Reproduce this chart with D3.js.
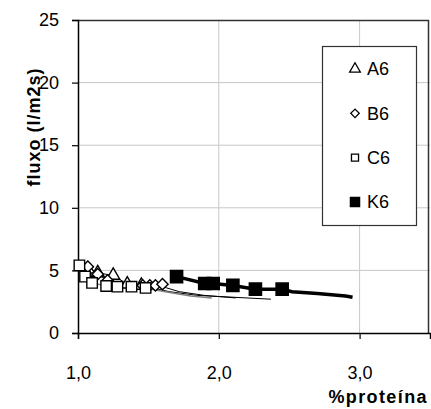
<!DOCTYPE html>
<html>
<head>
<meta charset="utf-8">
<script src="https://cdn.jsdelivr.net/npm/d3@7"></script>
<style>
  body { margin: 0; background: #fff; }
  text { font-family: Arial, "Liberation Sans", sans-serif; fill: #000; }
</style>
</head>
<body>
<script>
(function () {
  "use strict";

  // data
  var seriesNames = ["A6", "B6", "C6", "K6"];
  var xTicks = [1, 2, 3];
  var yTicks = [0, 5, 10, 15, 20, 25];

  // markers
  var a6Pts = [[1.07, 5.1], [1.14, 4.8], [1.25, 4.6], [1.35, 3.9], [1.45, 3.8]];
  var b6Pts = [[1.07, 5.3], [1.14, 4.7], [1.21, 4.2], [1.46, 3.8], [1.51, 3.8], [1.55, 3.8], [1.60, 3.9]];
  var c6Pts = [[1.01, 5.4], [1.05, 4.5], [1.10, 4.0], [1.20, 3.75], [1.28, 3.7], [1.38, 3.7], [1.48, 3.6]];
  var k6Pts = [[1.70, 4.5], [1.90, 3.95], [1.96, 3.95], [2.10, 3.8], [2.26, 3.5], [2.45, 3.5]];

  // lines (more points than markers)
  var a6Line = [[1.07, 5.1], [1.14, 4.8], [1.25, 4.6], [1.35, 3.9], [1.45, 3.8], [1.65, 3.3], [1.85, 3.0], [2.03, 2.9], [2.37, 2.7]];
  var b6Line = [[1.07, 5.3], [1.14, 4.7], [1.21, 4.2], [1.46, 3.8], [1.60, 3.7], [1.72, 3.3], [1.90, 3.0], [2.12, 2.8]];
  var c6Line = [[1.01, 5.4], [1.05, 4.5], [1.10, 4.0], [1.20, 3.75], [1.38, 3.7], [1.48, 3.6], [1.62, 3.3], [1.80, 2.95], [1.95, 2.8]];
  var k6Line = [[1.70, 4.5], [1.90, 3.95], [1.96, 3.95], [2.10, 3.8], [2.26, 3.5], [2.45, 3.5], [2.52, 3.3], [2.70, 3.15], [2.90, 2.95], [2.95, 2.85]];

  var width = 431, height = 409,
    left = 78, right = 430, top = 20, bottom = 333,
    svg, x, y, line, series, legend, legY;

  svg = d3.select("body").append("svg")
    .attr("width", width)
    .attr("height", height);

  x = d3.scaleLinear().domain([1, 3.5]).range([left, right]);
  y = d3.scaleLinear().domain([0, 25]).range([bottom, top]);

  // grid
  svg.selectAll(".hgrid")
    .data(yTicks.filter(function (d) { return d > 0 && d < 25; }))
    .enter().append("line")
    .attr("x1", left).attr("x2", right)
    .attr("y1", function (d) { return y(d); })
    .attr("y2", function (d) { return y(d); })
    .attr("stroke", "#c8c8c8").attr("stroke-width", 1);

  svg.selectAll(".vgrid")
    .data(xTicks.filter(function (d) { return d > 1; }))
    .enter().append("line")
    .attr("x1", function (d) { return x(d); })
    .attr("x2", function (d) { return x(d); })
    .attr("y1", top).attr("y2", bottom)
    .attr("stroke", "#c8c8c8").attr("stroke-width", 1);

  // plot frame top/right
  svg.append("path")
    .attr("d", "M" + left + "," + (top + 0.5) + "H" + (right - 1.5) + "V" + bottom)
    .attr("fill", "none").attr("stroke", "#333").attr("stroke-width", 1.5);

  // axes
  svg.append("g")
    .attr("transform", "translate(0," + bottom + ")")
    .call(d3.axisBottom(x).tickValues(xTicks).tickSize(6).tickPadding(27)
      .tickFormat(function (d) { return d3.format(".1f")(d).replace(".", ","); }))
    .call(function (g) {
      g.select(".domain").attr("stroke-width", 1.5);
      g.selectAll(".tick line").attr("stroke-width", 1.2);
      g.selectAll("text").attr("font-size", 18);
    });

  svg.append("g")
    .attr("transform", "translate(" + left + ",0)")
    .call(d3.axisLeft(y).tickValues(yTicks).tickSize(6).tickPadding(13))
    .call(function (g) {
      g.select(".domain").attr("stroke-width", 1.5);
      g.selectAll(".tick line").attr("stroke-width", 1.2);
      g.selectAll("text").attr("font-size", 18);
    });

  svg.append("text")
    .attr("x", 428).attr("y", 403)
    .attr("text-anchor", "end")
    .attr("font-size", 18).attr("font-weight", "bold")
    .attr("letter-spacing", 1.4)
    .text("%proteína");

  svg.append("text")
    .attr("transform", "translate(40,127) rotate(-90)")
    .attr("text-anchor", "middle")
    .attr("font-size", 18).attr("font-weight", "bold")
    .attr("letter-spacing", 1)
    .text("fluxo (l/m2s)");

  // lines
  line = d3.line()
    .x(function (d) { return x(d[0]); })
    .y(function (d) { return y(d[1]); });

  series = [
    { name: seriesNames[0], line: a6Line, pts: a6Pts, sym: d3.symbolTriangle, size: 75, rot: 0, fill: "#fff", color: "#000", lw: 1 },
    { name: seriesNames[1], line: b6Line, pts: b6Pts, sym: d3.symbolSquare, size: 64, rot: 45, fill: "#fff", color: "#000", lw: 1 },
    { name: seriesNames[2], line: c6Line, pts: c6Pts, sym: d3.symbolSquare, size: 110, rot: 0, fill: "#fff", color: "#808080", lw: 1.5 },
    { name: seriesNames[3], line: k6Line, pts: k6Pts, sym: d3.symbolSquare, size: 150, rot: 0, fill: "#000", color: "#000", lw: 3.5 }
  ];

  series.forEach(function (s) {
    svg.append("path")
      .datum(s.line)
      .attr("d", line)
      .attr("fill", "none")
      .attr("stroke", s.color)
      .attr("stroke-width", s.lw);
  });

  series.forEach(function (s) {
    svg.selectAll(".m" + s.name)
      .data(s.pts)
      .enter().append("path")
      .attr("transform", function (d) {
        return "translate(" + x(d[0]) + "," + y(d[1]) + ") rotate(" + s.rot + ")";
      })
      .attr("d", d3.symbol().type(s.sym).size(s.size))
      .attr("fill", s.fill)
      .attr("stroke", "#000")
      .attr("stroke-width", 1.4);
  });

  // legend
  legend = svg.append("g");
  legend.append("rect")
    .attr("x", 322.5).attr("y", 46.5)
    .attr("width", 94).attr("height", 179)
    .attr("fill", "#fff").attr("stroke", "#333").attr("stroke-width", 1.2);

  legY = d3.scalePoint().domain(seriesNames).range([69, 202]);
  series.forEach(function (s) {
    legend.append("path")
      .attr("transform", "translate(355," + legY(s.name) + ") rotate(" + s.rot + ")")
      .attr("d", d3.symbol().type(s.sym).size(s.name === "K6" ? 85 : (s.name === "B6" ? 36 : 50)))
      .attr("fill", s.fill)
      .attr("stroke", "#000")
      .attr("stroke-width", 1.3);
    legend.append("text")
      .attr("x", 367).attr("y", legY(s.name))
      .attr("dy", "0.36em")
      .attr("font-size", 18)
      .text(s.name);
  });
})();
</script>
</body>
</html>
